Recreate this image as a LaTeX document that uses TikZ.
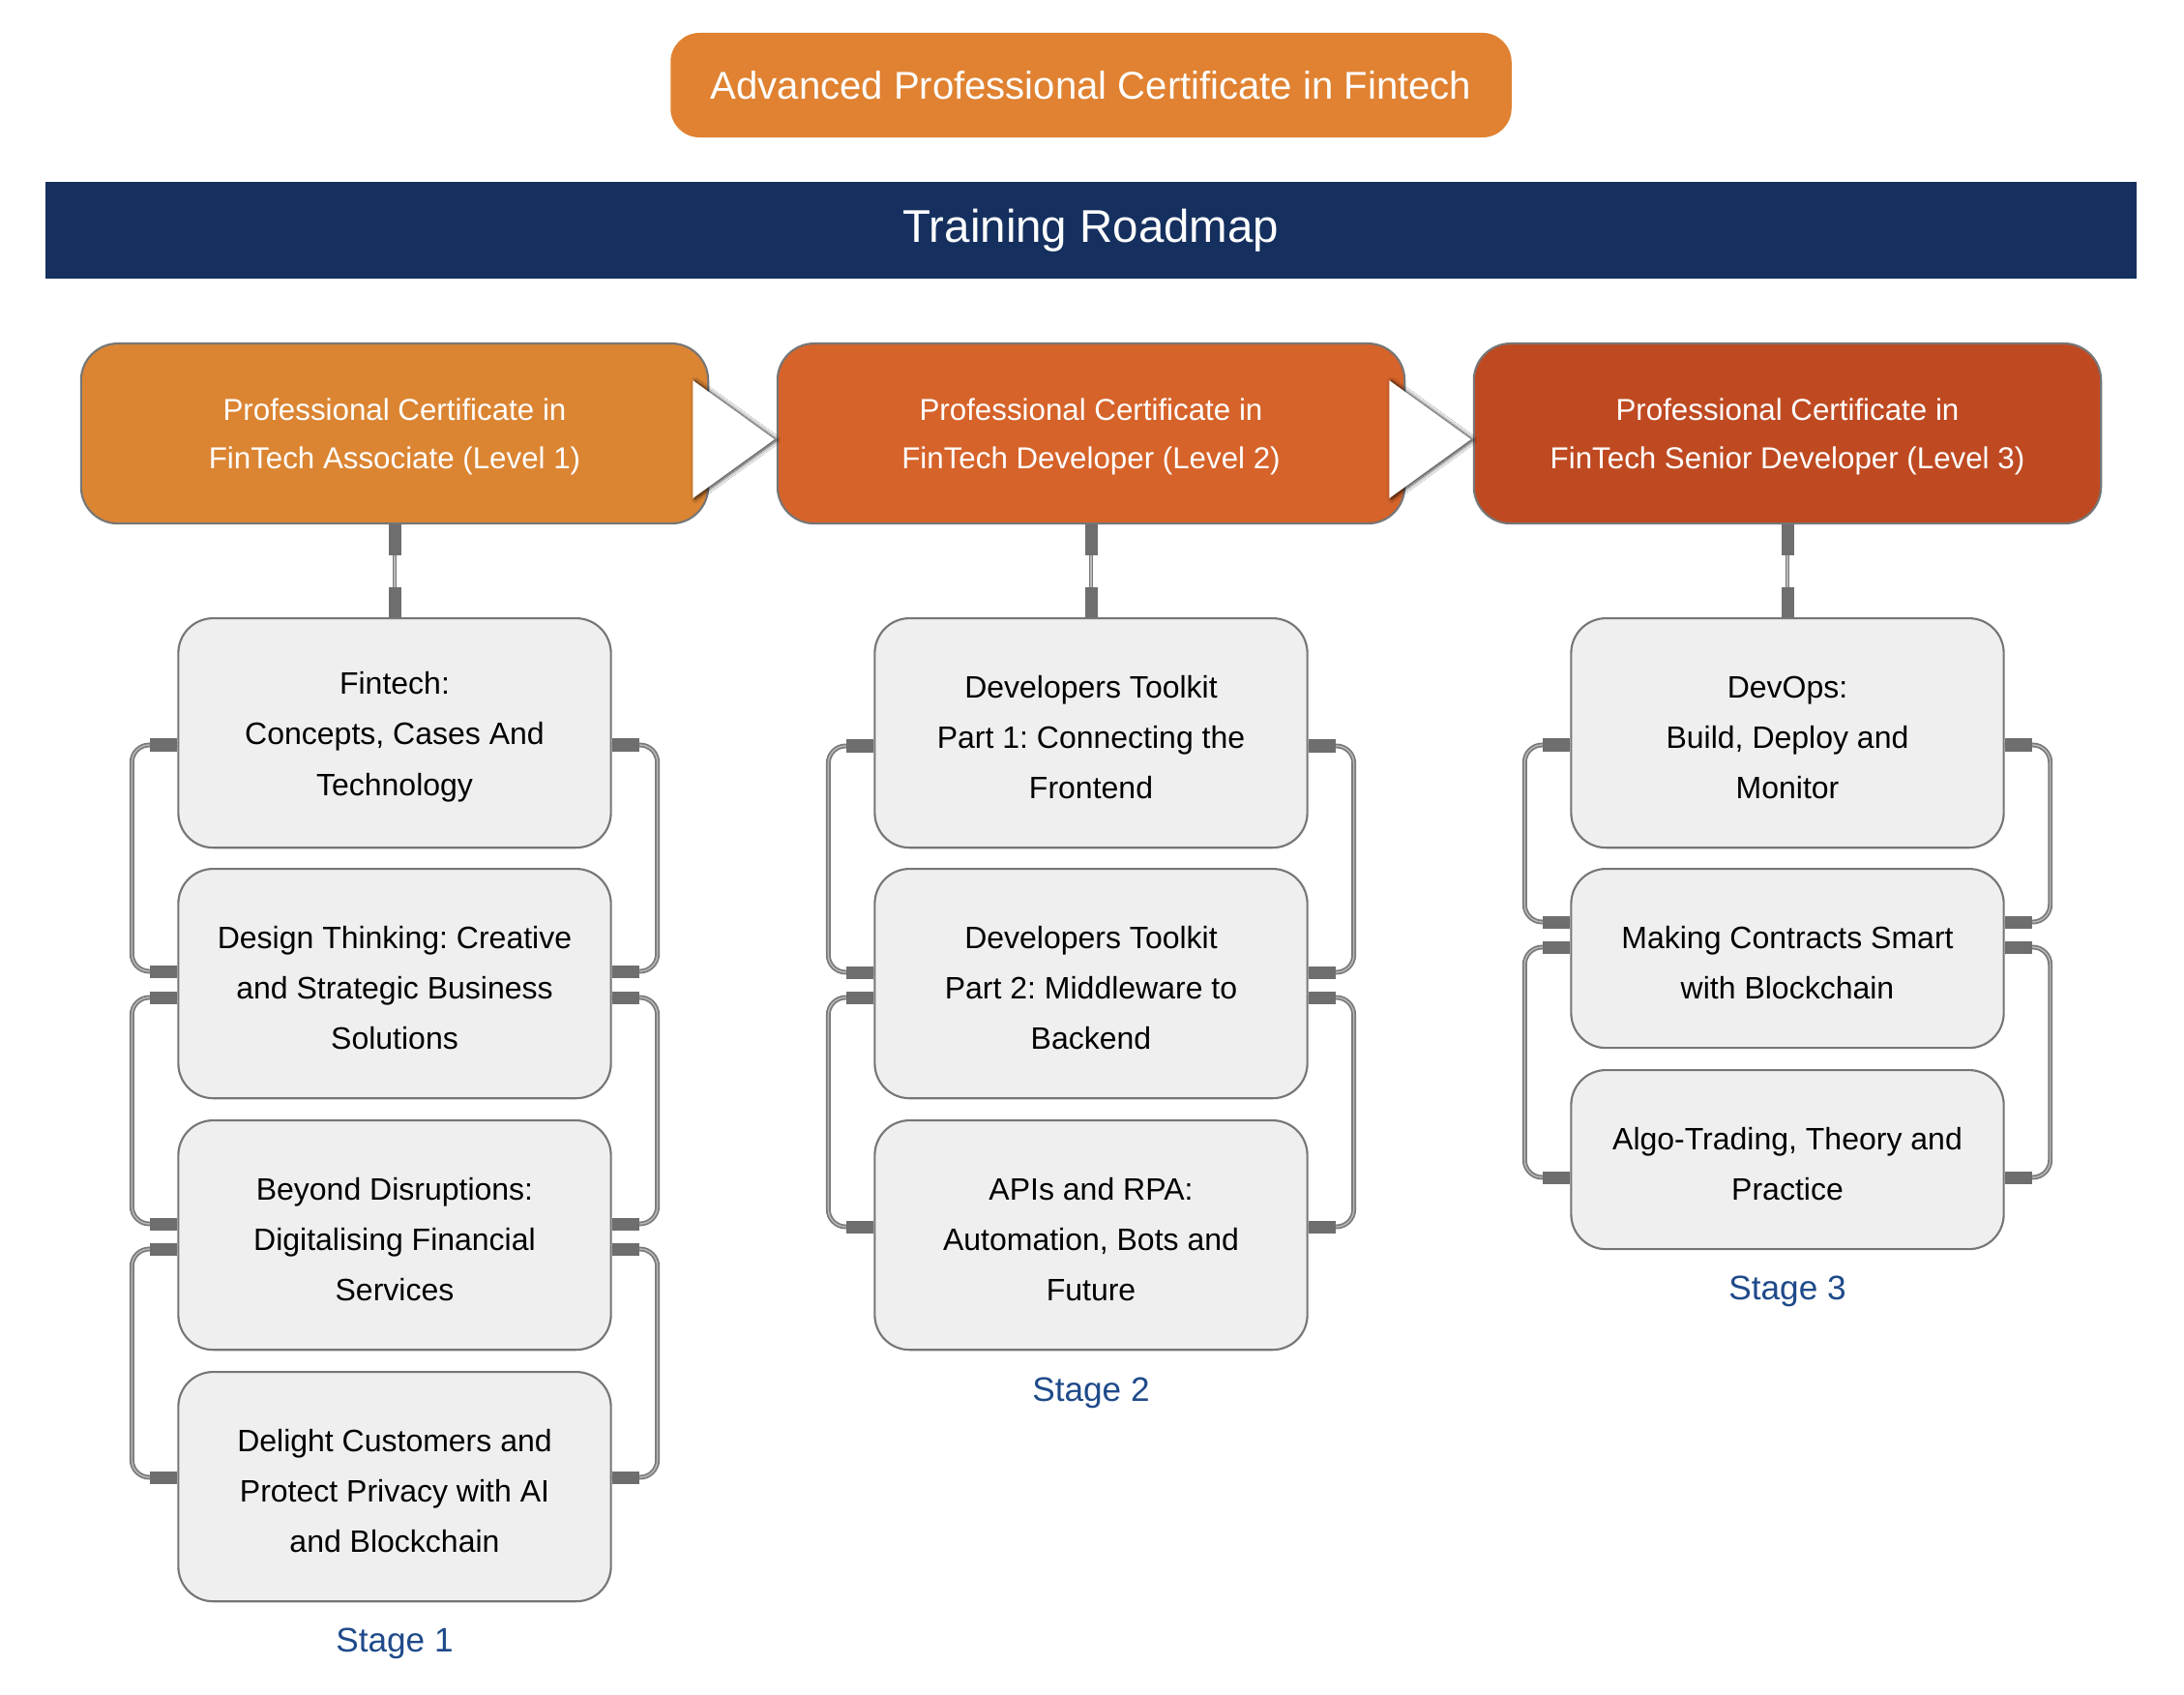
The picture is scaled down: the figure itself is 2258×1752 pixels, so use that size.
\documentclass[tikz,border=0pt]{standalone}
\usepackage{fontspec}
\setmainfont{Liberation Sans}
\usetikzlibrary{calc,shadows.blur}

\definecolor{titleorange}{HTML}{E08231}
\definecolor{bannernavy}{HTML}{15305F}
\definecolor{levelone}{HTML}{DB8533}
\definecolor{leveltwo}{HTML}{D6632A}
\definecolor{levelthree}{HTML}{BF4A22}
\definecolor{coursefill}{HTML}{EFEFEF}
\definecolor{courseline}{HTML}{767676}
\definecolor{stubgray}{HTML}{6E6E6E}
\definecolor{linkgray}{HTML}{7A7A7A}
\definecolor{linklight}{HTML}{B8B8B8}
\definecolor{stageblue}{HTML}{1F4A8A}

% invisible struts that give the first text line a little extra headroom
\newcommand\coursepad{\rule{0pt}{8.9pt}}
\newcommand\levelpad{\rule{0pt}{8.2pt}}

% side link between two stacked courses: #1 source node, #2 offset from its top,
% #3 target node, #4 offset from its top (drawn on both sides)
\newcommand\pairlink[4]{%
  \path ($(#1.north west)+(0,#2)$) coordinate (pl1)
        ($(#3.north west)+(0,#4)$) coordinate (pl2)
        ($(#1.north east)+(0,#2)$) coordinate (pr1)
        ($(#3.north east)+(0,#4)$) coordinate (pr2);
  \draw[link] (pl1) -| ($(pl2)+(-47,0)$) -- (pl2);
  \draw[link] (pr1) -| ($(pr2)+(47,0)$) -- (pr2);
  \draw[stubline] (pl1) -- ++(-28,0);
  \draw[stubline] (pl2) -- ++(-28,0);
  \draw[stubline] (pr1) -- ++(28,0);
  \draw[stubline] (pr2) -- ++(28,0);
}

\begin{document}
\begin{tikzpicture}[x=0.01cm, y=-0.01cm,
  course/.style={draw=courseline, fill=coursefill, line width=0.6pt,
    rounded corners=0.36cm, minimum width=4.47cm, inner sep=0pt,
    align=center, anchor=north, text=black,
    font=\fontsize{9.1}{14.8}\selectfont\frenchspacing},
  level/.style={draw=courseline, line width=0.6pt, rounded corners=0.38cm,
    minimum width=6.48cm, minimum height=1.86cm, inner sep=0pt,
    align=center, anchor=north, text=white,
    font=\fontsize{8.9}{14.2}\selectfont\frenchspacing},
  stubline/.style={draw=stubgray, line width=3.7pt},
  link/.style={draw=linkgray, line width=0.5pt, double=linklight,
    double distance=0.4pt, rounded corners=0.18cm},
  stage/.style={text=stageblue, font=\fontsize{10}{12}\selectfont},
  pointer/.style={fill=white, draw=none,
    blur shadow={shadow xshift=0.7pt, shadow yshift=-0.2pt,
      shadow blur radius=1.1pt, shadow blur steps=8, shadow opacity=85}},
]
\fill[white] (0,0) rectangle (2258,1752);
\useasboundingbox (0,0) rectangle (2258,1752);

% header
\node[fill=titleorange, rounded corners=0.3cm, minimum width=8.69cm,
  minimum height=1.08cm, inner sep=0pt, text=white,
  font=\fontsize{11.4}{13}\selectfont] (title) at (1128,88)
  {Advanced Professional Certificate in Fintech};
\node[fill=bannernavy, minimum width=21.6cm, minimum height=1.0cm,
  inner sep=0pt, text=white, font=\fontsize{13.5}{16}\selectfont]
  (banner) at (1128,238) {Training Roadmap};

% certificate levels
\node[level, fill=levelone] (L1) at (408,354)
  {\levelpad Professional Certificate in\\FinTech Associate (Level 1)};
\node[level, fill=leveltwo] (L2) at (1128,354)
  {\levelpad Professional Certificate in\\FinTech Developer (Level 2)};
\node[level, fill=levelthree] (L3) at (1848,354)
  {\levelpad Professional Certificate in\\FinTech Senior Developer (Level 3)};

% stage 1 courses
\node[course, minimum height=2.37cm] (a1) at (408,638)
  {\coursepad Fintech:\\Concepts, Cases And\\Technology};
\node[course, minimum height=2.37cm] (a2) at (408,897)
  {\coursepad Design Thinking: Creative\\and Strategic Business\\Solutions};
\node[course, minimum height=2.37cm] (a3) at (408,1157)
  {\coursepad Beyond Disruptions:\\Digitalising Financial\\Services};
\node[course, minimum height=2.37cm] (a4) at (408,1417)
  {\coursepad Delight Customers and\\Protect Privacy with AI\\and Blockchain};

% stage 2 courses
\node[course, minimum height=2.37cm] (b1) at (1128,638)
  {\coursepad Developers Toolkit\\Part 1: Connecting the\\Frontend};
\node[course, minimum height=2.37cm] (b2) at (1128,897)
  {\coursepad Developers Toolkit\\Part 2: Middleware to\\Backend};
\node[course, minimum height=2.37cm] (b3) at (1128,1157)
  {\coursepad APIs and RPA:\\Automation, Bots and\\Future};

% stage 3 courses
\node[course, minimum height=2.37cm] (c1) at (1848,638)
  {\coursepad DevOps:\\Build, Deploy and\\Monitor};
\node[course, minimum height=1.85cm] (c2) at (1848,897)
  {\coursepad Making Contracts Smart\\with Blockchain};
\node[course, minimum height=1.85cm] (c3) at (1848,1105)
  {\coursepad Algo-Trading, Theory and\\Practice};

% progression pointers between levels
\fill[pointer] ($(L1.east)+(-17,-55)$) -- ($(L2.west)+(-2,6)$)
  -- ($(L1.east)+(-17,67)$) -- cycle;
\fill[pointer] ($(L2.east)+(-17,-55)$) -- ($(L3.west)+(-2,6)$)
  -- ($(L2.east)+(-17,67)$) -- cycle;

% level to first course
\foreach \p/\q in {L1/a1, L2/b1, L3/c1} {
  \draw[link] (\p.south) -- (\q.north);
  \draw[stubline] (\p.south) -- ++(0,32);
  \draw[stubline] (\q.north) -- ++(0,-31);
}

% course to course links
\pairlink{a1}{132}{a2}{107}
\pairlink{a2}{134}{a3}{108}
\pairlink{a3}{134}{a4}{110}
\pairlink{b1}{133}{b2}{108}
\pairlink{b2}{134}{b3}{111}
\pairlink{c1}{132}{c2}{56}
\pairlink{c2}{82}{c3}{112}

% stage captions
\node[stage] (s1) at (408,1699) {Stage 1};
\node[stage] (s2) at (1128,1440) {Stage 2};
\node[stage] (s3) at (1848,1335) {Stage 3};
\end{tikzpicture}
\end{document}
